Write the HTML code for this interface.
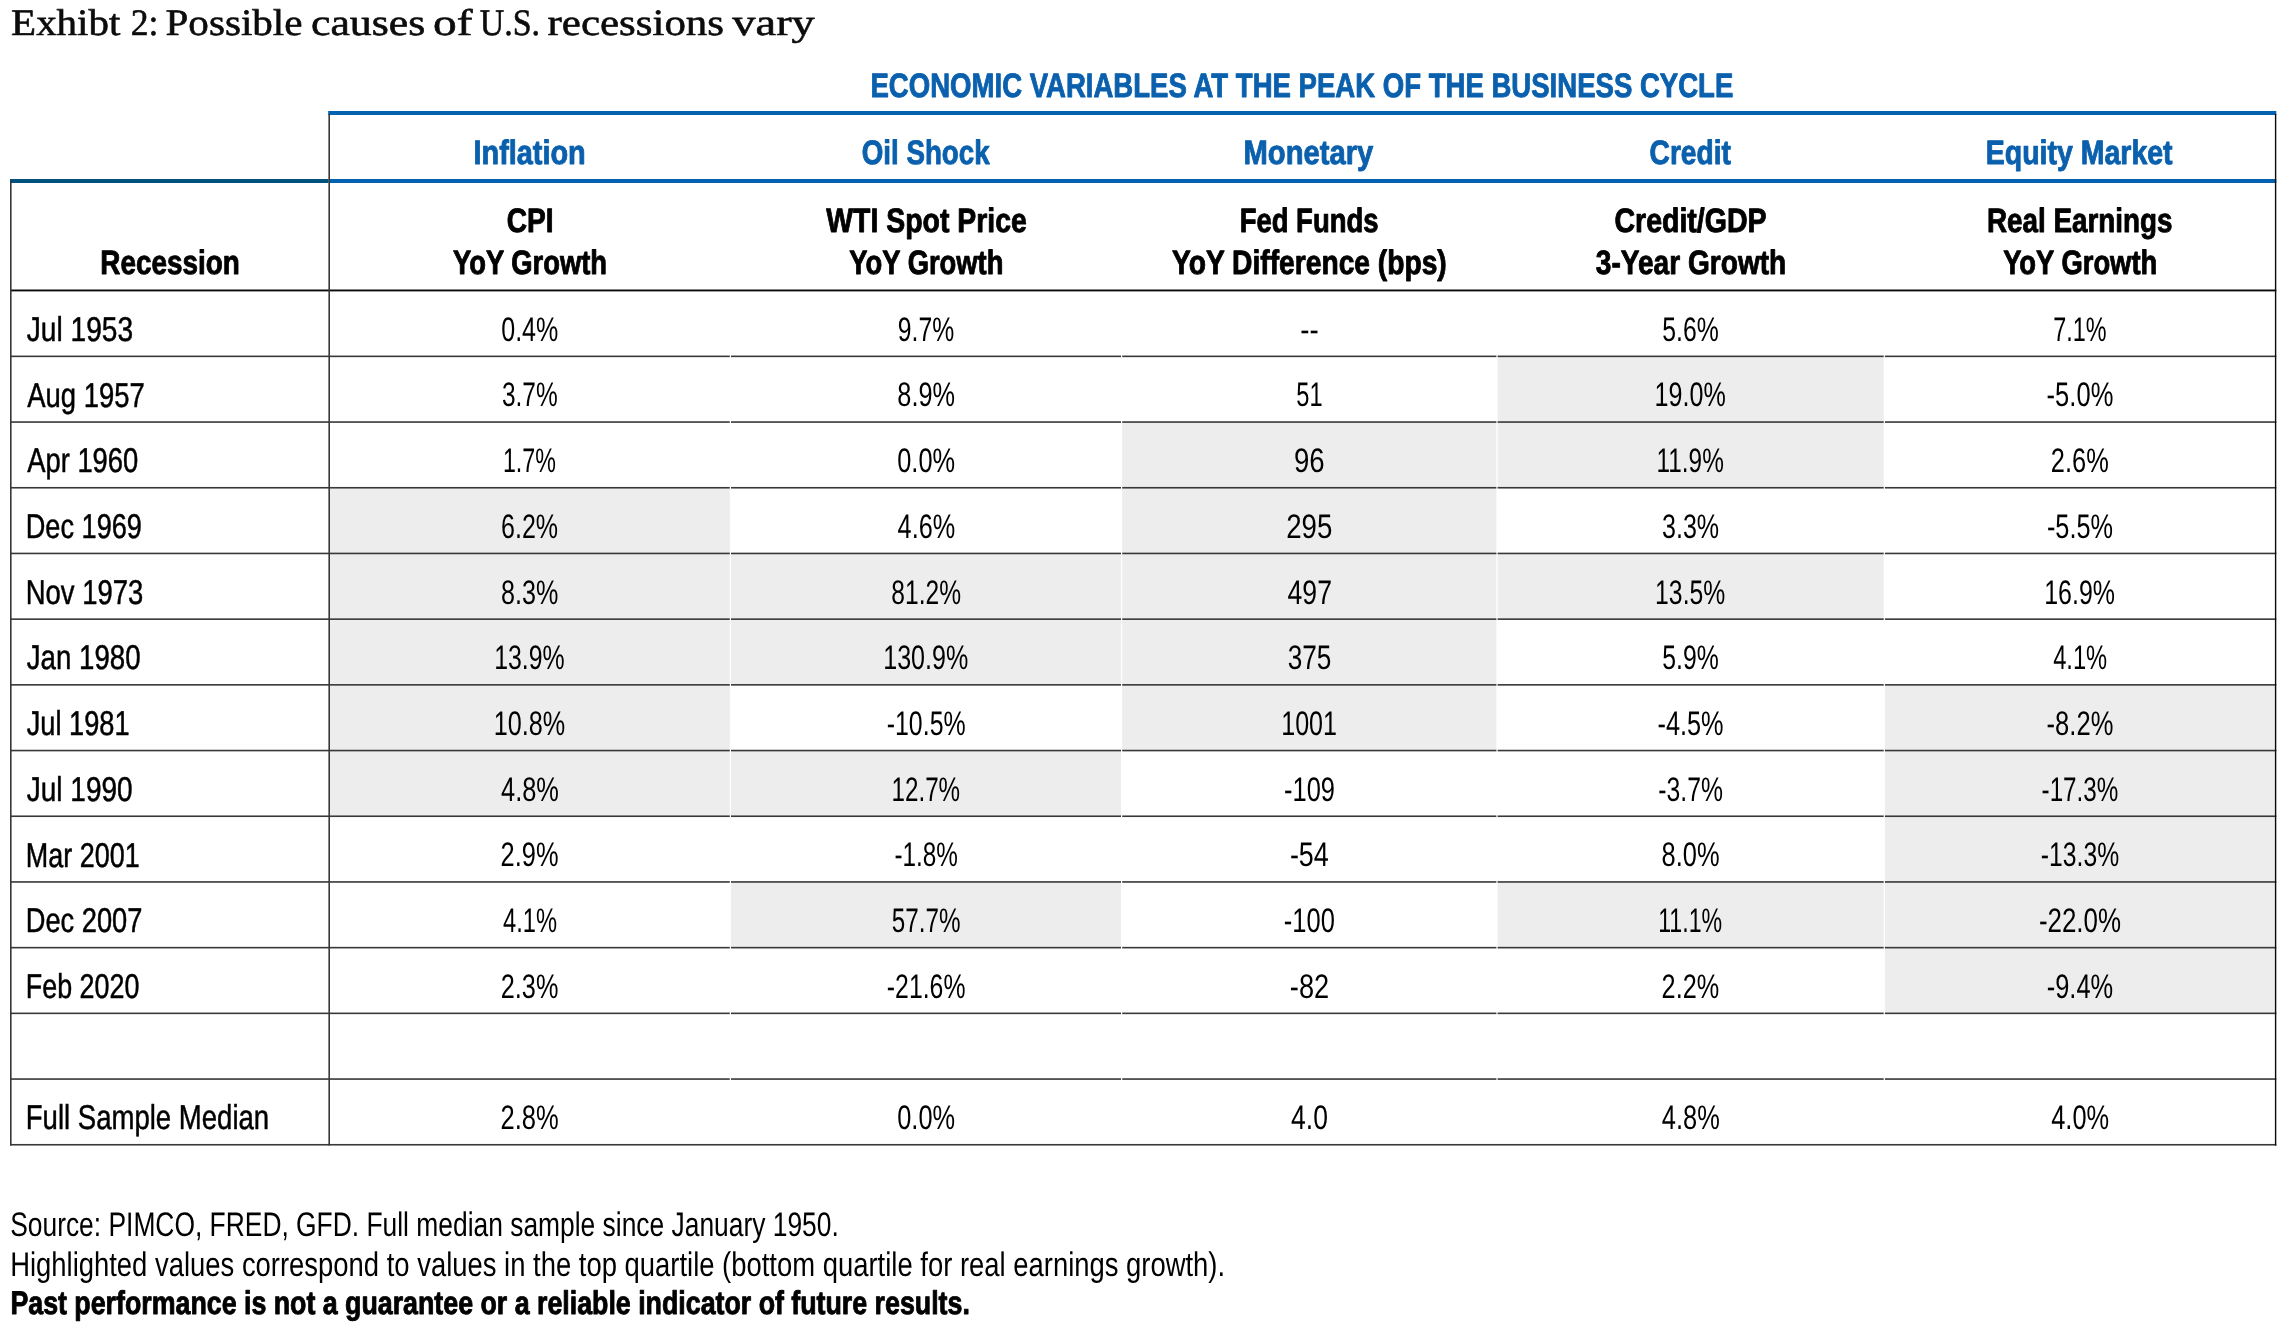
<!DOCTYPE html>
<html lang="en"><head><meta charset="utf-8"><title>Exhibit 2: Possible causes of U.S. recessions vary</title>
<style>
html,body{margin:0;padding:0;background:#fff}
#page{position:relative;width:2292px;height:1333px;overflow:hidden;background:#fff}
#grid{position:absolute;left:0;top:0}
#txt{position:absolute;left:0;top:0;will-change:transform}
text{white-space:pre;font-kerning:normal;text-rendering:geometricPrecision}
.title{font-family:"Liberation Serif",serif;font-weight:400;font-size:37.26px;fill:#0c0c0c;stroke:#0c0c0c;stroke-width:0.6px;stroke-linejoin:round;}
.hb{font-family:"Liberation Sans",sans-serif;font-weight:700;font-size:33.87px;fill:#0a60ad;stroke:#0a60ad;stroke-width:0.9px;stroke-linejoin:round;}
.hk{font-family:"Liberation Sans",sans-serif;font-weight:700;font-size:33.87px;fill:#000;stroke:#000;stroke-width:0.9px;stroke-linejoin:round;}
.lab{font-family:"Liberation Sans",sans-serif;font-weight:400;font-size:34.45px;fill:#000;stroke:#000;stroke-width:0.5px;stroke-linejoin:round;}
.num{font-family:"Liberation Sans",sans-serif;font-weight:400;font-size:34.01px;fill:#000;}
.ft{font-family:"Liberation Sans",sans-serif;font-weight:400;font-size:34.01px;fill:#000;}
.ftb{font-family:"Liberation Sans",sans-serif;font-weight:700;font-size:32.70px;fill:#000;stroke:#000;stroke-width:0.9px;stroke-linejoin:round;}
</style></head><body>
<div id="page">
<svg id="grid" width="2292" height="1333" viewBox="0 0 2292 1333" shape-rendering="geometricPrecision">
<rect x="1497.60" y="356.35" width="386.10" height="65.70" fill="#ededed"/>
<rect x="1122.20" y="422.05" width="374.20" height="65.70" fill="#ededed"/>
<rect x="1497.60" y="422.05" width="386.10" height="65.70" fill="#ededed"/>
<rect x="330.00" y="487.75" width="399.80" height="65.70" fill="#ededed"/>
<rect x="1122.20" y="487.75" width="374.20" height="65.70" fill="#ededed"/>
<rect x="330.00" y="553.45" width="399.80" height="65.70" fill="#ededed"/>
<rect x="731.00" y="553.45" width="390.00" height="65.70" fill="#ededed"/>
<rect x="1122.20" y="553.45" width="374.20" height="65.70" fill="#ededed"/>
<rect x="1497.60" y="553.45" width="386.10" height="65.70" fill="#ededed"/>
<rect x="330.00" y="619.15" width="399.80" height="65.70" fill="#ededed"/>
<rect x="731.00" y="619.15" width="390.00" height="65.70" fill="#ededed"/>
<rect x="1122.20" y="619.15" width="374.20" height="65.70" fill="#ededed"/>
<rect x="330.00" y="684.85" width="399.80" height="65.70" fill="#ededed"/>
<rect x="1122.20" y="684.85" width="374.20" height="65.70" fill="#ededed"/>
<rect x="1884.90" y="684.85" width="390.10" height="65.70" fill="#ededed"/>
<rect x="330.00" y="750.55" width="399.80" height="65.70" fill="#ededed"/>
<rect x="731.00" y="750.55" width="390.00" height="65.70" fill="#ededed"/>
<rect x="1884.90" y="750.55" width="390.10" height="65.70" fill="#ededed"/>
<rect x="1884.90" y="816.25" width="390.10" height="65.70" fill="#ededed"/>
<rect x="731.00" y="881.95" width="390.00" height="65.70" fill="#ededed"/>
<rect x="1497.60" y="881.95" width="386.10" height="65.70" fill="#ededed"/>
<rect x="1884.90" y="881.95" width="390.10" height="65.70" fill="#ededed"/>
<rect x="1884.90" y="947.65" width="390.10" height="65.70" fill="#ededed"/>
<rect x="10.00" y="289.50" width="2266.30" height="1.90" fill="#0a0a0a"/>
<rect x="10.00" y="355.55" width="319.00" height="1.60" fill="#383838"/>
<rect x="330.00" y="355.55" width="399.80" height="1.60" fill="#383838"/>
<rect x="731.00" y="355.55" width="390.00" height="1.60" fill="#383838"/>
<rect x="1122.20" y="355.55" width="374.20" height="1.60" fill="#383838"/>
<rect x="1497.60" y="355.55" width="386.10" height="1.60" fill="#383838"/>
<rect x="1884.90" y="355.55" width="391.40" height="1.60" fill="#383838"/>
<rect x="10.00" y="421.25" width="319.00" height="1.60" fill="#383838"/>
<rect x="330.00" y="421.25" width="399.80" height="1.60" fill="#383838"/>
<rect x="731.00" y="421.25" width="390.00" height="1.60" fill="#383838"/>
<rect x="1122.20" y="421.25" width="374.20" height="1.60" fill="#383838"/>
<rect x="1497.60" y="421.25" width="386.10" height="1.60" fill="#383838"/>
<rect x="1884.90" y="421.25" width="391.40" height="1.60" fill="#383838"/>
<rect x="10.00" y="486.95" width="319.00" height="1.60" fill="#383838"/>
<rect x="330.00" y="486.95" width="399.80" height="1.60" fill="#383838"/>
<rect x="731.00" y="486.95" width="390.00" height="1.60" fill="#383838"/>
<rect x="1122.20" y="486.95" width="374.20" height="1.60" fill="#383838"/>
<rect x="1497.60" y="486.95" width="386.10" height="1.60" fill="#383838"/>
<rect x="1884.90" y="486.95" width="391.40" height="1.60" fill="#383838"/>
<rect x="10.00" y="552.65" width="319.00" height="1.60" fill="#383838"/>
<rect x="330.00" y="552.65" width="399.80" height="1.60" fill="#383838"/>
<rect x="731.00" y="552.65" width="390.00" height="1.60" fill="#383838"/>
<rect x="1122.20" y="552.65" width="374.20" height="1.60" fill="#383838"/>
<rect x="1497.60" y="552.65" width="386.10" height="1.60" fill="#383838"/>
<rect x="1884.90" y="552.65" width="391.40" height="1.60" fill="#383838"/>
<rect x="10.00" y="618.35" width="319.00" height="1.60" fill="#383838"/>
<rect x="330.00" y="618.35" width="399.80" height="1.60" fill="#383838"/>
<rect x="731.00" y="618.35" width="390.00" height="1.60" fill="#383838"/>
<rect x="1122.20" y="618.35" width="374.20" height="1.60" fill="#383838"/>
<rect x="1497.60" y="618.35" width="386.10" height="1.60" fill="#383838"/>
<rect x="1884.90" y="618.35" width="391.40" height="1.60" fill="#383838"/>
<rect x="10.00" y="684.05" width="319.00" height="1.60" fill="#383838"/>
<rect x="330.00" y="684.05" width="399.80" height="1.60" fill="#383838"/>
<rect x="731.00" y="684.05" width="390.00" height="1.60" fill="#383838"/>
<rect x="1122.20" y="684.05" width="374.20" height="1.60" fill="#383838"/>
<rect x="1497.60" y="684.05" width="386.10" height="1.60" fill="#383838"/>
<rect x="1884.90" y="684.05" width="391.40" height="1.60" fill="#383838"/>
<rect x="10.00" y="749.75" width="319.00" height="1.60" fill="#383838"/>
<rect x="330.00" y="749.75" width="399.80" height="1.60" fill="#383838"/>
<rect x="731.00" y="749.75" width="390.00" height="1.60" fill="#383838"/>
<rect x="1122.20" y="749.75" width="374.20" height="1.60" fill="#383838"/>
<rect x="1497.60" y="749.75" width="386.10" height="1.60" fill="#383838"/>
<rect x="1884.90" y="749.75" width="391.40" height="1.60" fill="#383838"/>
<rect x="10.00" y="815.45" width="319.00" height="1.60" fill="#383838"/>
<rect x="330.00" y="815.45" width="399.80" height="1.60" fill="#383838"/>
<rect x="731.00" y="815.45" width="390.00" height="1.60" fill="#383838"/>
<rect x="1122.20" y="815.45" width="374.20" height="1.60" fill="#383838"/>
<rect x="1497.60" y="815.45" width="386.10" height="1.60" fill="#383838"/>
<rect x="1884.90" y="815.45" width="391.40" height="1.60" fill="#383838"/>
<rect x="10.00" y="881.15" width="319.00" height="1.60" fill="#383838"/>
<rect x="330.00" y="881.15" width="399.80" height="1.60" fill="#383838"/>
<rect x="731.00" y="881.15" width="390.00" height="1.60" fill="#383838"/>
<rect x="1122.20" y="881.15" width="374.20" height="1.60" fill="#383838"/>
<rect x="1497.60" y="881.15" width="386.10" height="1.60" fill="#383838"/>
<rect x="1884.90" y="881.15" width="391.40" height="1.60" fill="#383838"/>
<rect x="10.00" y="946.85" width="319.00" height="1.60" fill="#383838"/>
<rect x="330.00" y="946.85" width="399.80" height="1.60" fill="#383838"/>
<rect x="731.00" y="946.85" width="390.00" height="1.60" fill="#383838"/>
<rect x="1122.20" y="946.85" width="374.20" height="1.60" fill="#383838"/>
<rect x="1497.60" y="946.85" width="386.10" height="1.60" fill="#383838"/>
<rect x="1884.90" y="946.85" width="391.40" height="1.60" fill="#383838"/>
<rect x="10.00" y="1012.55" width="319.00" height="1.60" fill="#383838"/>
<rect x="330.00" y="1012.55" width="399.80" height="1.60" fill="#383838"/>
<rect x="731.00" y="1012.55" width="390.00" height="1.60" fill="#383838"/>
<rect x="1122.20" y="1012.55" width="374.20" height="1.60" fill="#383838"/>
<rect x="1497.60" y="1012.55" width="386.10" height="1.60" fill="#383838"/>
<rect x="1884.90" y="1012.55" width="391.40" height="1.60" fill="#383838"/>
<rect x="10.00" y="1078.25" width="319.00" height="1.60" fill="#383838"/>
<rect x="330.00" y="1078.25" width="399.80" height="1.60" fill="#383838"/>
<rect x="731.00" y="1078.25" width="390.00" height="1.60" fill="#383838"/>
<rect x="1122.20" y="1078.25" width="374.20" height="1.60" fill="#383838"/>
<rect x="1497.60" y="1078.25" width="386.10" height="1.60" fill="#383838"/>
<rect x="1884.90" y="1078.25" width="391.40" height="1.60" fill="#383838"/>
<rect x="10.00" y="1143.95" width="2266.30" height="1.60" fill="#383838"/>
<rect x="328.20" y="111.00" width="1948.10" height="4.00" fill="#0062b0"/>
<rect x="10.00" y="179.00" width="318.60" height="4.00" fill="#00527d"/>
<rect x="329.60" y="179.00" width="1946.70" height="4.00" fill="#0062b0"/>
<rect x="10.00" y="181.00" width="1.60" height="964.55" fill="#383838"/>
<rect x="328.40" y="114.00" width="1.60" height="1031.55" fill="#383838"/>
<rect x="2274.90" y="114.00" width="1.40" height="1031.55" fill="#0a0a0a"/>
</svg>
<svg id="txt" width="2292" height="1333" viewBox="0 0 2292 1333">
<g id="title">
<text class="title" transform="translate(11.09 35.00) scale(1.1004 1)">Exhibt</text>
<text class="title" transform="translate(130.77 35.00) scale(0.9557 1)">2:</text>
<text class="title" transform="translate(165.49 35.00) scale(1.1034 1)">Possible</text>
<text class="title" transform="translate(310.98 35.00) scale(1.1760 1)">causes</text>
<text class="title" transform="translate(433.00 35.00) scale(1.2728 1)">of</text>
<text class="title" transform="translate(479.64 35.00) scale(0.9116 1)">U.S.</text>
<text class="title" transform="translate(547.57 35.00) scale(1.1528 1)">recessions</text>
<text class="title" transform="translate(732.37 35.00) scale(1.2453 1)">vary</text>
</g>
<text class="hb" transform="translate(870.49 97.00) scale(0.8137 1)">ECONOMIC VARIABLES AT THE PEAK OF THE BUSINESS CYCLE</text>
<text class="hb" transform="translate(473.48 164.00) scale(0.8523 1)">Inflation</text>
<text class="hb" transform="translate(861.80 164.00) scale(0.8179 1)">Oil Shock</text>
<text class="hb" transform="translate(1243.51 164.00) scale(0.8619 1)">Monetary</text>
<text class="hb" transform="translate(1649.58 164.00) scale(0.8309 1)">Credit</text>
<text class="hb" transform="translate(1985.74 164.00) scale(0.8415 1)">Equity Market</text>
<text class="hk" transform="translate(100.35 274.00) scale(0.8235 1)">Recession</text>
<text class="hk" transform="translate(506.76 232.00) scale(0.8301 1)">CPI</text>
<text class="hk" transform="translate(452.94 274.00) scale(0.8084 1)">YoY Growth</text>
<text class="hk" transform="translate(826.28 232.00) scale(0.8392 1)">WTI Spot Price</text>
<text class="hk" transform="translate(849.34 274.00) scale(0.8084 1)">YoY Growth</text>
<text class="hk" transform="translate(1239.65 232.00) scale(0.8113 1)">Fed Funds</text>
<text class="hk" transform="translate(1172.03 274.00) scale(0.8328 1)">YoY Difference (bps)</text>
<text class="hk" transform="translate(1614.44 232.00) scale(0.8425 1)">Credit/GDP</text>
<text class="hk" transform="translate(1595.83 274.00) scale(0.8295 1)">3-Year Growth</text>
<text class="hk" transform="translate(1986.95 232.00) scale(0.8213 1)">Real Earnings</text>
<text class="hk" transform="translate(2003.14 274.00) scale(0.8084 1)">YoY Growth</text>
<text class="lab" transform="translate(26.76 341.00) scale(0.8166 1)">Jul 1953</text>
<text class="num" transform="translate(501.19 341.00) scale(0.7376 1)">0.4%</text>
<text class="num" transform="translate(897.77 341.00) scale(0.7280 1)">9.7%</text>
<text class="num" transform="translate(1300.23 341.00) scale(0.8153 1)">--</text>
<text class="num" transform="translate(1662.32 341.00) scale(0.7291 1)">5.6%</text>
<text class="num" transform="translate(2053.14 341.00) scale(0.6877 1)">7.1%</text>
<text class="lab" transform="translate(27.20 407.00) scale(0.7966 1)">Aug 1957</text>
<text class="num" transform="translate(501.93 406.00) scale(0.7186 1)">3.7%</text>
<text class="num" transform="translate(897.34 406.00) scale(0.7440 1)">8.9%</text>
<text class="num" transform="translate(1296.36 406.00) scale(0.6951 1)">51</text>
<text class="num" transform="translate(1654.61 406.00) scale(0.7379 1)">19.0%</text>
<text class="num" transform="translate(2046.61 406.00) scale(0.7513 1)">-5.0%</text>
<text class="lab" transform="translate(27.20 472.00) scale(0.7946 1)">Apr 1960</text>
<text class="num" transform="translate(502.91 472.00) scale(0.6840 1)">1.7%</text>
<text class="num" transform="translate(897.26 472.00) scale(0.7461 1)">0.0%</text>
<text class="num" transform="translate(1293.96 472.00) scale(0.8118 1)">96</text>
<text class="num" transform="translate(1656.56 472.00) scale(0.7164 1)">11.9%</text>
<text class="num" transform="translate(2050.82 472.00) scale(0.7471 1)">2.6%</text>
<text class="lab" transform="translate(25.78 538.00) scale(0.7878 1)">Dec 1969</text>
<text class="num" transform="translate(501.04 538.00) scale(0.7364 1)">6.2%</text>
<text class="num" transform="translate(897.58 538.00) scale(0.7430 1)">4.6%</text>
<text class="num" transform="translate(1286.24 538.00) scale(0.8130 1)">295</text>
<text class="num" transform="translate(1661.99 538.00) scale(0.7376 1)">3.3%</text>
<text class="num" transform="translate(2046.93 538.00) scale(0.7439 1)">-5.5%</text>
<text class="lab" transform="translate(25.76 604.00) scale(0.7967 1)">Nov 1973</text>
<text class="num" transform="translate(501.11 604.00) scale(0.7397 1)">8.3%</text>
<text class="num" transform="translate(891.33 604.00) scale(0.7228 1)">81.2%</text>
<text class="num" transform="translate(1287.52 604.00) scale(0.7829 1)">497</text>
<text class="num" transform="translate(1655.11 604.00) scale(0.7276 1)">13.5%</text>
<text class="num" transform="translate(2044.17 604.00) scale(0.7345 1)">16.9%</text>
<text class="lab" transform="translate(26.77 669.00) scale(0.8030 1)">Jan 1980</text>
<text class="num" transform="translate(494.14 669.00) scale(0.7311 1)">13.9%</text>
<text class="num" transform="translate(883.18 669.00) scale(0.7387 1)">130.9%</text>
<text class="num" transform="translate(1287.67 669.00) scale(0.7701 1)">375</text>
<text class="num" transform="translate(1662.32 669.00) scale(0.7291 1)">5.9%</text>
<text class="num" transform="translate(2053.15 669.00) scale(0.6969 1)">4.1%</text>
<text class="lab" transform="translate(26.77 735.00) scale(0.7898 1)">Jul 1981</text>
<text class="num" transform="translate(493.64 735.00) scale(0.7413 1)">10.8%</text>
<text class="num" transform="translate(886.71 735.00) scale(0.7326 1)">-10.5%</text>
<text class="num" transform="translate(1281.18 735.00) scale(0.7386 1)">1001</text>
<text class="num" transform="translate(1657.53 735.00) scale(0.7439 1)">-4.5%</text>
<text class="num" transform="translate(2046.61 735.00) scale(0.7513 1)">-8.2%</text>
<text class="lab" transform="translate(26.77 801.00) scale(0.8132 1)">Jul 1990</text>
<text class="num" transform="translate(501.02 801.00) scale(0.7470 1)">4.8%</text>
<text class="num" transform="translate(891.46 801.00) scale(0.7123 1)">12.7%</text>
<text class="num" transform="translate(1284.04 801.00) scale(0.7486 1)">-109</text>
<text class="num" transform="translate(1658.27 801.00) scale(0.7274 1)">-3.7%</text>
<text class="num" transform="translate(2041.56 801.00) scale(0.7131 1)">-17.3%</text>
<text class="lab" transform="translate(25.79 867.00) scale(0.7826 1)">Mar 2001</text>
<text class="num" transform="translate(500.62 866.00) scale(0.7471 1)">2.9%</text>
<text class="num" transform="translate(894.44 866.00) scale(0.7146 1)">-1.8%</text>
<text class="num" transform="translate(1289.88 866.00) scale(0.7907 1)">-54</text>
<text class="num" transform="translate(1661.58 866.00) scale(0.7482 1)">8.0%</text>
<text class="num" transform="translate(2040.83 866.00) scale(0.7267 1)">-13.3%</text>
<text class="lab" transform="translate(25.77 932.00) scale(0.7912 1)">Dec 2007</text>
<text class="num" transform="translate(502.95 932.00) scale(0.6969 1)">4.1%</text>
<text class="num" transform="translate(891.81 932.00) scale(0.7128 1)">57.7%</text>
<text class="num" transform="translate(1283.80 932.00) scale(0.7498 1)">-100</text>
<text class="num" transform="translate(1658.20 932.00) scale(0.6819 1)">11.1%</text>
<text class="num" transform="translate(2038.88 932.00) scale(0.7627 1)">-22.0%</text>
<text class="lab" transform="translate(25.80 998.00) scale(0.7801 1)">Feb 2020</text>
<text class="num" transform="translate(500.79 998.00) scale(0.7428 1)">2.3%</text>
<text class="num" transform="translate(886.86 998.00) scale(0.7297 1)">-21.6%</text>
<text class="num" transform="translate(1289.87 998.00) scale(0.7997 1)">-82</text>
<text class="num" transform="translate(1661.59 998.00) scale(0.7428 1)">2.2%</text>
<text class="num" transform="translate(2046.77 998.00) scale(0.7476 1)">-9.4%</text>
<text class="lab" transform="translate(25.75 1129.00) scale(0.7999 1)">Full Sample Median</text>
<text class="num" transform="translate(500.46 1129.00) scale(0.7514 1)">2.8%</text>
<text class="num" transform="translate(897.26 1129.00) scale(0.7461 1)">0.0%</text>
<text class="num" transform="translate(1291.10 1129.00) scale(0.7795 1)">4.0</text>
<text class="num" transform="translate(1661.82 1129.00) scale(0.7470 1)">4.8%</text>
<text class="num" transform="translate(2051.22 1129.00) scale(0.7470 1)">4.0%</text>
<text class="ft" transform="translate(10.18 1236.00) scale(0.7761 1)">Source: PIMCO, FRED, GFD. Full median sample since January 1950.</text>
<text class="ft" transform="translate(10.16 1276.00) scale(0.8066 1)">Highlighted values correspond to values in the top quartile (bottom quartile for real earnings growth).</text>
<text class="ftb" transform="translate(10.39 1314.00) scale(0.8189 1)">Past performance is not a guarantee or a reliable indicator of future results.</text>
</svg>
</div>
</body></html>
